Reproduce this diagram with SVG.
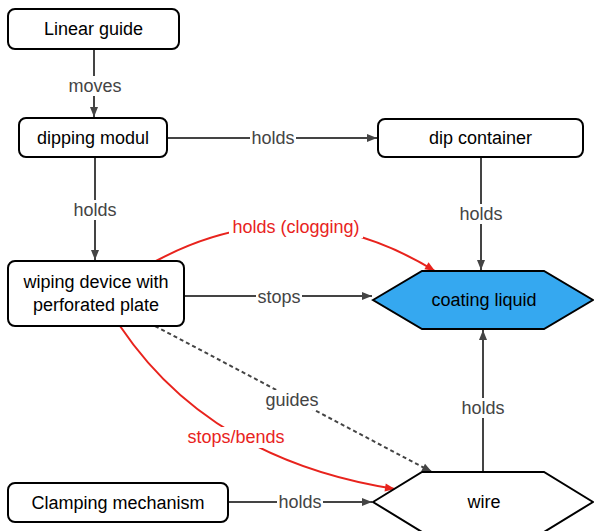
<svg xmlns="http://www.w3.org/2000/svg" width="594" height="531" viewBox="0 0 594 531">
<style>
.node{fill:#fff;stroke:#000;stroke-width:2}
.hex{stroke:#000;stroke-width:2}
.nt{font-family:"Liberation Sans",Arial,sans-serif;font-size:18px;fill:#000;text-anchor:middle;dominant-baseline:central}
.lt{font-family:"Liberation Sans",Arial,sans-serif;font-size:18px;fill:#444;text-anchor:middle;dominant-baseline:central}
.red{fill:#e8231d}
.e{fill:none;stroke:#444;stroke-width:2}
.er{fill:none;stroke:#e8231d;stroke-width:2}
.bg{fill:#fff}
</style>
<defs>
<marker id="ag" viewBox="0 0 10 10" refX="10" refY="5" markerWidth="10" markerHeight="10" orient="auto" markerUnits="userSpaceOnUse" style="overflow:visible">
<path d="M0,1 L10,5 L0,9 z" fill="#444"/>
</marker>
<marker id="ar" viewBox="0 0 10 10" refX="10" refY="5" markerWidth="10" markerHeight="10" orient="auto" markerUnits="userSpaceOnUse" style="overflow:visible">
<path d="M0,1 L10,5 L0,9 z" fill="#e8231d"/>
</marker>
</defs>
<rect width="594" height="531" fill="#fff"/>
<g id="connectors">
<path class="e" d="M94,49 L94,117" marker-end="url(#ag)"/>
<path class="e" d="M167,138 L377,138" marker-end="url(#ag)"/>
<path class="e" d="M95,157 L95,260" marker-end="url(#ag)"/>
<path class="e" d="M481,157 L481,270" marker-end="url(#ag)"/>
<path class="e" d="M184,296 L372,296" marker-end="url(#ag)"/>
<path class="e" d="M483,472 L483,330" marker-end="url(#ag)"/>
<path class="e" d="M228,502 L372,502" marker-end="url(#ag)"/>
<path class="e" d="M155,326 L432,472" stroke-dasharray="4,3" marker-end="url(#ag)"/>
<path class="er" d="M156,261 Q296,186 435,271" marker-end="url(#ar)"/>
<path class="er" d="M120,326 Q210,460 395,489" marker-end="url(#ar)"/>
<rect class="bg" x="65" y="76" width="60" height="20"/>
<text class="lt" x="95" y="86">moves</text>
<rect class="bg" x="250" y="128" width="46" height="20"/>
<text class="lt" x="273" y="138">holds</text>
<rect class="bg" x="72" y="200" width="46" height="20"/>
<text class="lt" x="95" y="210">holds</text>
<rect class="bg" x="458" y="204" width="46" height="20"/>
<text class="lt" x="481" y="214">holds</text>
<rect class="bg" x="256" y="286" width="46" height="20"/>
<text class="lt" x="279" y="297">stops</text>
<rect class="bg" x="460" y="398" width="46" height="20"/>
<text class="lt" x="483" y="408">holds</text>
<rect class="bg" x="277" y="492" width="46" height="20"/>
<text class="lt" x="300" y="502">holds</text>
<rect class="bg" x="262" y="390" width="60" height="20"/>
<text class="lt" x="292" y="400">guides</text>
<rect class="bg" x="229" y="217" width="134" height="21"/>
<text class="lt red" x="296" y="227">holds (clogging)</text>
<rect class="bg" x="185" y="427" width="103" height="21"/>
<text class="lt red" x="236" y="437">stops/bends</text>
</g>
<g id="linear-guide">
<rect class="node" x="8" y="9" width="171" height="40" rx="7"/>
<text class="nt" x="93.5" y="29">Linear guide</text>
</g>
<g id="dipping-modul">
<rect class="node" x="19" y="118" width="148" height="39" rx="7"/>
<text class="nt" x="93" y="138">dipping modul</text>
</g>
<g id="dip-container">
<rect class="node" x="378" y="119" width="205" height="38" rx="7"/>
<text class="nt" x="480.5" y="138">dip container</text>
</g>
<g id="wiping-device">
<rect class="node" x="8" y="261" width="176" height="65" rx="7"/>
<text class="nt" x="96" y="282">wiping device with</text>
<text class="nt" x="96" y="305">perforated plate</text>
</g>
<g id="coating-liquid">
<polygon class="hex" fill="#35a8f0" points="373,300 422,271 544,271 593,300 544,329 422,329"/>
<text class="nt" x="484" y="300">coating liquid</text>
</g>
<g id="clamping-mechanism">
<rect class="node" x="8" y="483" width="220" height="39" rx="7"/>
<text class="nt" x="118" y="502.5">Clamping mechanism</text>
</g>
<g id="wire">
<polygon class="hex" fill="#fff" points="373,502 422,472 544,472 593,502 544,532 422,532"/>
<text class="nt" x="484" y="502">wire</text>
</g>
</svg>
